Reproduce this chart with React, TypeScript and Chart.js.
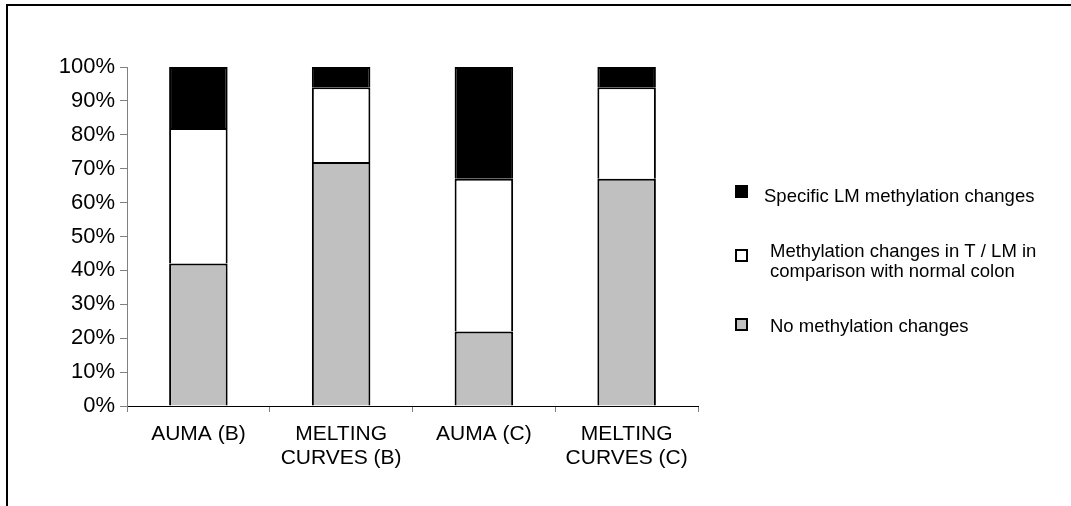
import React, { useEffect, useRef } from "react";
import { Chart, registerables } from "chart.js";

Chart.register(...registerables);

const categories: string[][] = [
  ["AUMA (B)"],
  ["MELTING", "CURVES (B)"],
  ["AUMA (C)"],
  ["MELTING", "CURVES (C)"],
];

const noChange: number[] = [42, 72, 22, 67];
const tlmChange: number[] = [40, 22, 45, 27];
const specificLM: number[] = [18, 6, 33, 6];

const seriesNames: string[][] = [
  ["No methylation changes"],
  ["Methylation changes in T / LM in", "comparison with normal colon"],
  ["Specific LM methylation changes"],
];

const yTicks: number[] = [0, 10, 20, 30, 40, 50, 60, 70, 80, 90, 100];

const FONT = "'Liberation Sans', Arial, sans-serif";

const framePlugin = {
  id: "frame",
  beforeDraw(chart: any) {
    const ctx = chart.ctx;
    ctx.save();
    ctx.fillStyle = "#000";
    ctx.fillRect(6, 4, chart.width - 6, 2);
    ctx.fillRect(6, 4, 2, chart.height - 4);
    ctx.restore();
  },
};

const legendPlugin = {
  id: "customLegend",
  afterDraw(chart: any) {
    const ctx = chart.ctx;
    const ds = chart.data.datasets;
    const order = [2, 1, 0];
    const boxCenters = [191.5, 255.5, 324.5];
    const baselines = [202, 257, 332];
    const textX = [764, 770, 770];
    ctx.save();
    order.forEach((di, i) => {
      const d = ds[di];
      const cy = boxCenters[i];
      const size = 13;
      const bx = 735;
      ctx.fillStyle = d.backgroundColor;
      ctx.fillRect(bx, cy - size / 2, size, size);
      ctx.strokeStyle = "#000";
      ctx.lineWidth = 2;
      ctx.strokeRect(bx + 1, cy - size / 2 + 1, size - 2, size - 2);
      ctx.fillStyle = "#000";
      ctx.font = `18.5px ${FONT}`;
      ctx.textBaseline = "alphabetic";
      ctx.textAlign = "left";
      const lines: string[] = d.legendLines;
      lines.forEach((ln, k) => {
        ctx.fillText(ln, textX[i], baselines[i] + k * 19.5);
      });
    });
    ctx.restore();
  },
};

export default function App() {
  const ref = useRef<HTMLCanvasElement | null>(null);

  useEffect(() => {
    if (!ref.current) return;
    const mk = (data: number[], color: string, name: string[]) => ({
      label: name.join(" "),
      legendLines: name,
      data,
      backgroundColor: color,
      borderColor: "#000",
      borderWidth: 2,
      borderSkipped: "start",
      barPercentage: 0.41,
      categoryPercentage: 1,
    });
    const chart = new Chart(ref.current, {
      type: "bar",
      data: {
        labels: categories as any,
        datasets: [
          mk(noChange, "#C0C0C0", seriesNames[0]),
          mk(tlmChange, "#FFFFFF", seriesNames[1]),
          mk(specificLM, "#000000", seriesNames[2]),
        ] as any,
      },
      options: {
        animation: false,
        responsive: false,
        maintainAspectRatio: false,
        layout: { padding: { left: 0, top: 67, right: 373, bottom: 0 } },
        plugins: {
          legend: { display: false },
          tooltip: { enabled: false },
          title: { display: false },
        },
        scales: {
          x: {
            stacked: true,
            grid: {
              display: true,
              drawOnChartArea: false,
              drawTicks: true,
              tickLength: 6,
              color: "#808080",
              offset: true,
            },
            border: { display: true, color: "#000", width: 1 },
            ticks: {
              color: "#000",
              padding: 10,
              maxRotation: 0,
              autoSkip: false,
              font: { family: FONT, size: 21, lineHeight: "24px" } as any,
            },
            afterFit(scale: any) {
              scale.height = 100;
            },
          },
          y: {
            stacked: true,
            min: 0,
            max: 100,
            afterBuildTicks(scale: any) {
              scale.ticks = yTicks.map((v) => ({ value: v }));
            },
            grid: {
              display: true,
              drawOnChartArea: false,
              drawTicks: true,
              tickLength: 7,
              color: "#808080",
            },
            border: { display: true, color: "#808080", width: 1 },
            ticks: {
              color: "#000",
              padding: 5,
              font: { family: FONT, size: 22 },
              callback: (v: any) => `${v}%`,
            },
            afterFit(scale: any) {
              scale.width = 127;
            },
          },
        },
      },
      plugins: [framePlugin, legendPlugin],
    });
    return () => chart.destroy();
  }, []);

  return (
    <div style={{ position: "absolute", left: 0, top: 0, width: 1071, height: 506, background: "#fff" }}>
      <canvas ref={ref} width={1071} height={506} style={{ display: "block" }} />
    </div>
  );
}
